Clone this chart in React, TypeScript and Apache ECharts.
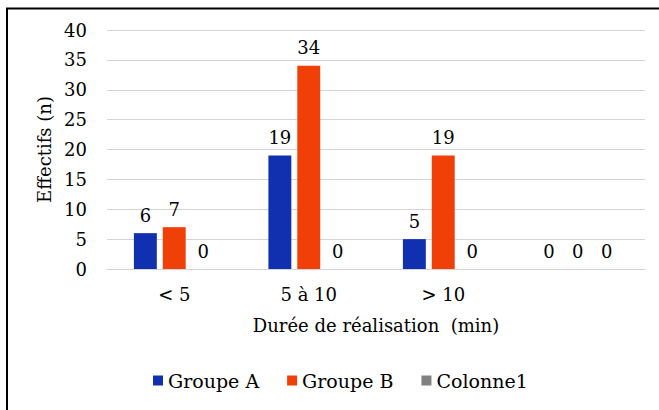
import React, { useEffect, useRef } from "react";
import * as echarts from "echarts";

const categories = ["< 5", "5 à 10", "> 10", ""];
const groupeA = [6, 19, 5, 0];
const groupeB = [7, 34, 19, 0];
const colonne1 = [0, 0, 0, 0];
const yTicks = { min: 0, max: 40, interval: 5 };

const FONT = "DejaVu Serif";

export default function App() {
  const ref = useRef<HTMLDivElement>(null);
  useEffect(() => {
    document.body.style.margin = "0";
    const chart = echarts.init(ref.current!, null, { renderer: "svg" });
    const label = {
      show: true,
      position: "top",
      distance: 9,
      color: "#000",
      fontFamily: FONT,
      fontSize: 18,
    };
    chart.setOption({
      animation: false,
      backgroundColor: "#fff",
      textStyle: { fontFamily: FONT },
      graphic: [
        {
          type: "rect",
          shape: { x: 7, y: 8.5, width: 700, height: 500 },
          style: { fill: "none", stroke: "#000", lineWidth: 2 },
          silent: true,
        },
      ],
      grid: { left: 107, right: 14, top: 30, bottom: 141 },
      legend: {
        bottom: 15,
        left: 148,
        icon: "rect",
        itemWidth: 10,
        itemHeight: 10,
        itemGap: 28,
        textStyle: { fontFamily: FONT, fontSize: 19, color: "#000" },
        data: ["Groupe A", "Groupe B", "Colonne1"],
      },
      xAxis: {
        type: "category",
        data: categories,
        axisLine: { lineStyle: { color: "#d4d4d4", width: 1 } },
        axisTick: { show: false },
        axisLabel: { color: "#000", fontSize: 18, fontFamily: FONT, margin: 16 },
        name: "Durée de réalisation  (min)",
        nameLocation: "middle",
        nameGap: 56,
        nameTextStyle: { color: "#000", fontSize: 18, fontFamily: FONT, verticalAlign: "middle" },
      },
      yAxis: {
        type: "value",
        min: yTicks.min,
        max: yTicks.max,
        interval: yTicks.interval,
        axisLine: { show: false },
        axisTick: { show: false },
        splitLine: { lineStyle: { color: "#d4d4d4", width: 1 } },
        axisLabel: { color: "#000", fontSize: 18, fontFamily: FONT, margin: 20 },
        name: "Effectifs (n)",
        nameLocation: "middle",
        nameRotate: 90,
        nameGap: 62,
        nameTextStyle: { color: "#000", fontSize: 18, fontFamily: FONT, verticalAlign: "middle" },
      },
      series: [
        {
          name: "Groupe A",
          type: "bar",
          data: groupeA,
          itemStyle: { color: "#1030b0" },
          label,
          barGap: "26%",
          barCategoryGap: "40%",
        },
        {
          name: "Groupe B",
          type: "bar",
          data: groupeB,
          itemStyle: { color: "#f04008" },
          label,
        },
        {
          name: "Colonne1",
          type: "bar",
          data: colonne1,
          itemStyle: { color: "#808080" },
          label,
        },
      ],
    });
    return () => chart.dispose();
  }, []);
  return <div ref={ref} style={{ width: 659, height: 410 }} />;
}
